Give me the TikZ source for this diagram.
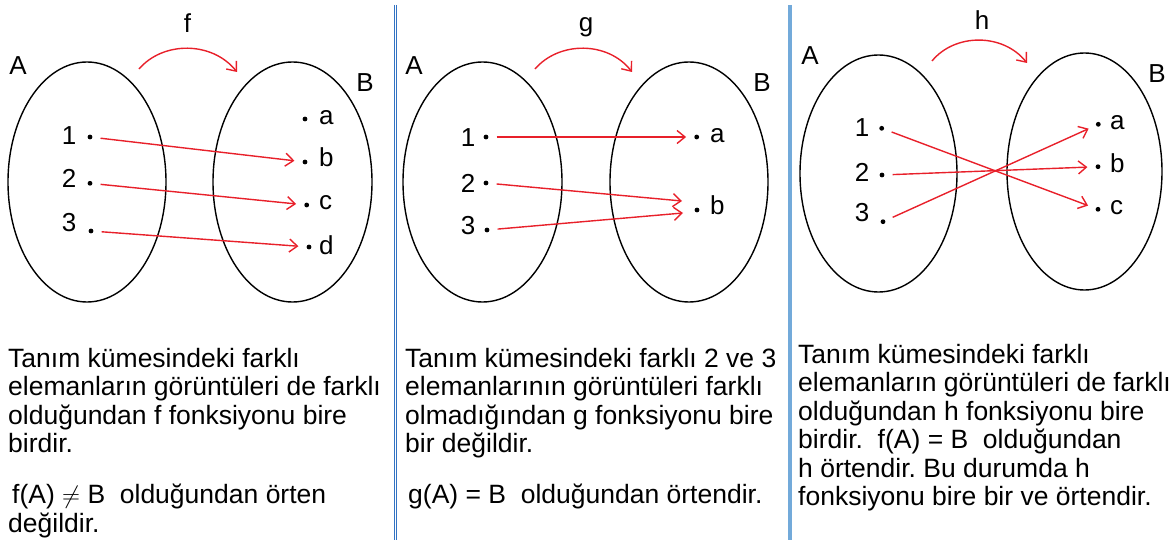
\documentclass[tikz,border=0pt]{standalone}
\usepackage{fontspec}
\setmainfont{Liberation Sans}
\usetikzlibrary{arrows.meta,shapes.geometric}
\definecolor{arr}{RGB}{232,32,42}
\definecolor{sepA}{RGB}{50,115,195}
\definecolor{sepB}{RGB}{115,170,218}
\newcommand{\txt}[1]{\parbox[t]{395pt}{\raggedright\frenchspacing\fontsize{26.5}{28.5}\selectfont #1}}
\begin{document}
\begin{tikzpicture}[x=1pt,y=-1pt,
  setel/.style={draw=black, line width=1.4pt, ellipse, inner sep=0pt},
  pt/.style={circle, fill=black, inner sep=0pt, minimum size=4.8pt},
  lbl/.style={inner sep=0pt, font=\fontsize{26}{26}\selectfont, anchor=base},
  lblw/.style={lbl, anchor=base west},
  map/.style={draw=arr, line width=1.4pt, -{Straight Barb[length=8pt,width=13pt]}, shorten <=8pt, shorten >=8pt},
  curv/.style={draw=arr, line width=1.4pt, -{Straight Barb[length=8pt,width=13pt]}},
  para/.style={inner sep=0pt, anchor=base west}]
\useasboundingbox (0,0) rectangle (1171,540);

% separators
\draw[sepA, line width=1pt] (394.5,5) -- (394.5,540);
\draw[sepA, line width=1pt] (396.8,5) -- (396.8,540);
\draw[sepB, line width=4pt] (790,5) -- (790,540);

% ---------- panel f ----------
\node[setel, minimum width=158pt, minimum height=240pt] (fA) at (87,182) {};
\node[setel, minimum width=159pt, minimum height=240pt] (fB) at (292.5,182) {};
\node[lbl] (fAl) at (18,75) {A};
\node[lbl] (fBl) at (365,92) {B};
\node[lbl] (fn) at (187.5,33) {f};
\coordinate (fs) at (139,69);
\coordinate (fe) at (237,72);
\draw[curv] (fs) .. controls (163,41) and (212,41) .. (fe);
\node[pt] (f1) at (90,137) {};
\node[pt] (f2) at (90,183.3) {};
\node[pt] (f3) at (91,231) {};
\node[lbl] (f1l) at (69,145) {1};
\node[lbl] (f2l) at (69,188) {2};
\node[lbl] (f3l) at (69,232) {3};
\node[pt] (fa) at (305,119) {};
\node[pt] (fb) at (305,162) {};
\node[pt] (fc) at (306.7,205) {};
\node[pt] (fd) at (309,247) {};
\node[lblw] (fal) at (319,125) {a};
\node[lblw] (fbl) at (319,167) {b};
\node[lblw] (fcl) at (319,210) {c};
\node[lblw] (fdl) at (319,255) {d};
\draw[map] (f1) -- (fb);
\draw[map] (f2) -- (fc);
\draw[map] (f3) -- (fd);
\node[para] (ft1) at (8,367) {\txt{Tanım kümesindeki farklı\\elemanların görüntüleri de farklı\\olduğundan f fonksiyonu bire\\birdir.}};
\node[para] (ft2) at (8,503.5) {\txt{\hspace*{4pt}f(A)\;$\neq$\;B\ \ olduğundan örten\\değildir.}};

% ---------- panel g ----------
\node[setel, minimum width=159pt, minimum height=240pt] (gA) at (482.5,182) {};
\node[setel, minimum width=158pt, minimum height=240pt] (gB) at (689,182) {};
\node[lbl] (gAl) at (414,75) {A};
\node[lbl] (gBl) at (762,92) {B};
\node[lbl] (gn) at (586,32) {g};
\coordinate (gs) at (535,69);
\coordinate (ge) at (632,72);
\draw[curv] (gs) .. controls (559,41) and (608,41) .. (ge);
\node[pt] (g1) at (486,137) {};
\node[pt] (g2) at (486,183) {};
\node[pt] (g3) at (487,230) {};
\node[lbl] (g1l) at (468,147) {1};
\node[lbl] (g2l) at (468,193) {2};
\node[lbl] (g3l) at (468,235) {3};
\node[pt] (ga) at (696.7,137) {};
\node[pt] (gb) at (697,210) {};
\node[lblw] (gal) at (710,143) {a};
\node[lblw] (gbl) at (710,215) {b};
\draw[map] (g1) -- (ga);
\draw[map, shorten >=0pt] (g2) -- ([xshift=-15pt,yshift=9pt]gb.center);
\draw[map, shorten >=0pt] (g3) -- ([xshift=-14pt,yshift=-3pt]gb.center);
\node[para] (gt1) at (405,367) {\txt{Tanım kümesindeki farklı 2 ve 3\\elemanlarının görüntüleri farklı\\olmadığından g fonksiyonu bire\\bir değildir.}};
\node[para] (gt2) at (405,503.5) {\txt{\hspace*{3pt}g(A)\;=\;B\ \ olduğundan örtendir.}};

% ---------- panel h ----------
\node[setel, minimum width=157pt, minimum height=237pt] (hA) at (878.5,173.5) {};
\node[setel, minimum width=155pt, minimum height=237pt] (hB) at (1084.5,171.5) {};
\node[lbl] (hAl) at (810,65) {A};
\node[lbl] (hBl) at (1157,83) {B};
\node[lbl] (hn) at (982,30) {h};
\coordinate (hs) at (932,61);
\coordinate (he) at (1027,63);
\draw[curv] (hs) .. controls (955,33) and (1003,33) .. (he);
\node[pt] (h1) at (881.7,128.3) {};
\node[pt] (h2) at (882,175) {};
\node[pt] (h3) at (883,221.7) {};
\node[lbl] (h1l) at (862,137) {1};
\node[lbl] (h2l) at (862,182) {2};
\node[lbl] (h3l) at (862,222) {3};
\node[pt] (ha) at (1098.3,124.3) {};
\node[pt] (hb) at (1098,166.7) {};
\node[pt] (hc) at (1098,209.3) {};
\node[lblw] (hal) at (1110,130) {a};
\node[lblw] (hbl) at (1110,173) {b};
\node[lblw] (hcl) at (1110,215) {c};
\draw[map] (h1) -- (hc);
\draw[map] (h2) -- (hb);
\draw[map] (h3) -- (ha);
\node[para] (ht1) at (798,363) {\txt{Tanım kümesindeki farklı\\elemanların görüntüleri de farklı\\olduğundan h fonksiyonu bire\\birdir.\ \ f(A)\;=\;B\ \ olduğundan\\h örtendir. Bu durumda h\\fonksiyonu bire bir ve örtendir.}};
\end{tikzpicture}
\end{document}
